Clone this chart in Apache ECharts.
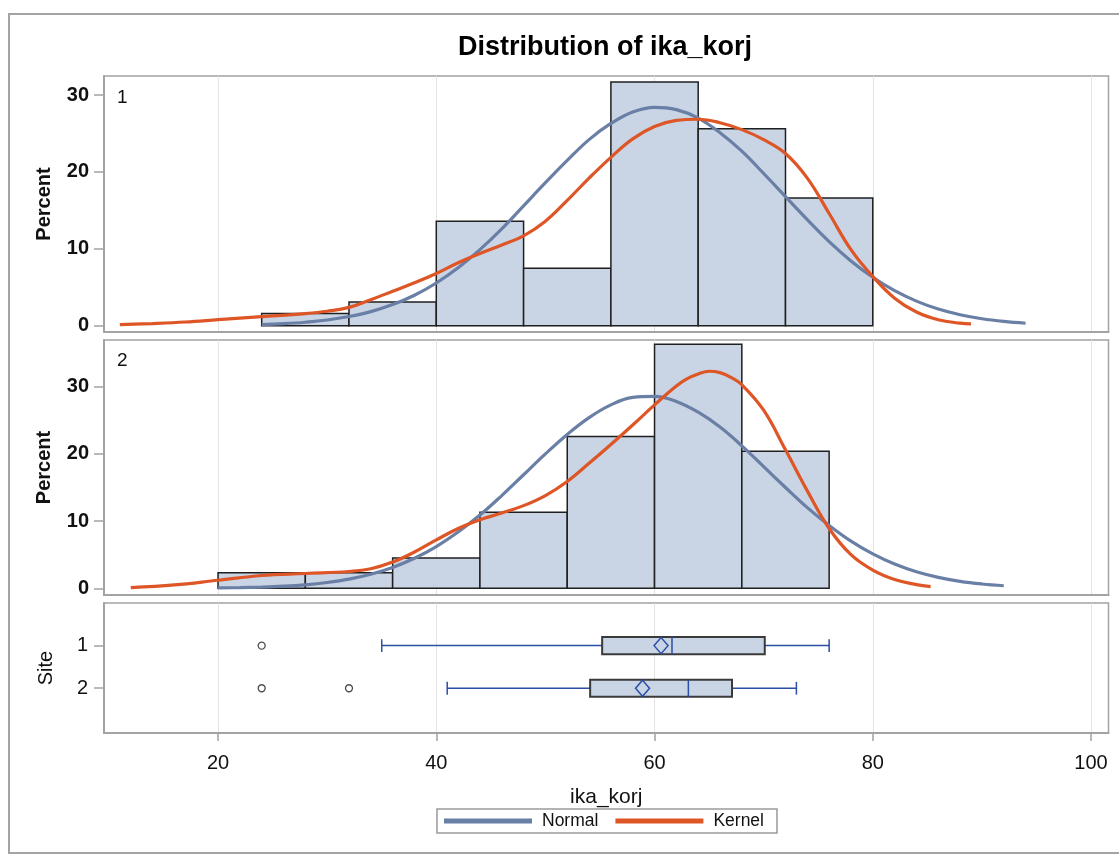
<!DOCTYPE html>
<html>
<head>
<meta charset="utf-8">
<script src="https://cdn.jsdelivr.net/npm/echarts@6/dist/echarts.min.js"></script>
<style>html,body{margin:0;padding:0;background:#fff}#c{width:1119px;height:857px}</style>
</head>
<body>
<div id="c"></div>
<script>
// ---------- data ----------
const xTicks = [20, 40, 60, 80, 100];
const pctTicks1 = [0, 10, 20, 30];
const pctTicks2 = [0, 10, 20, 30];
const siteLabels = [1, 2];

// histogram bins (left edge, right edge) and percents
const site1BinLo = [24, 32, 40, 48, 56, 64, 72];
const site1BinHi = [32, 40, 48, 56, 64, 72, 80];
const site1Pct   = [1.6, 3.1, 13.6, 7.5, 31.7, 25.6, 16.6];

const site2BinLo = [20, 28, 36, 44, 52, 60, 68];
const site2BinHi = [28, 36, 44, 52, 60, 68, 76];
const site2Pct   = [2.3, 2.3, 4.5, 11.3, 22.6, 36.3, 20.4];

// normal curve, site 1
const normal1X = [24, 26, 28, 30, 32, 34, 36, 38, 40, 42, 44, 46, 48, 50, 52, 54, 56, 58, 60, 62, 64, 66, 68, 70, 72, 74, 76, 78, 80, 82, 84, 86, 88, 90, 92, 94];
const normal1Y = [0.16, 0.28, 0.47, 0.76, 1.21, 1.85, 2.76, 3.98, 5.57, 7.54, 9.9, 12.6, 15.6, 18.6, 21.5, 24.2, 26.3, 27.8, 28.4, 28.1, 27.0, 25.1, 22.7, 19.8, 16.8, 13.8, 10.95, 8.44, 6.31, 4.57, 3.21, 2.18, 1.44, 0.92, 0.57, 0.34];
// kernel curve, site 1
const kernel1X = [11, 14, 17, 20, 24, 28, 30, 32, 34, 36, 38, 40, 42, 44, 46, 48, 50, 52, 54, 56, 58, 60, 62, 64, 66, 68, 70, 72, 74, 76, 78, 80, 82, 84, 86, 88, 89];
const kernel1Y = [0.15, 0.3, 0.5, 0.8, 1.2, 1.6, 1.9, 2.4, 3.4, 4.5, 5.6, 6.8, 8.2, 9.4, 10.5, 11.7, 13.6, 16.3, 19.2, 21.9, 24.3, 25.9, 26.7, 26.85, 26.4, 25.5, 24.2, 22.4, 19.2, 14.6, 9.9, 6.4, 3.6, 1.8, 0.8, 0.35, 0.25];

// normal curve, site 2
const normal2X = [20, 22, 24, 26, 28, 30, 32, 34, 36, 38, 40, 42, 44, 46, 48, 50, 52, 54, 56, 58, 60, 62, 64, 66, 68, 70, 72, 74, 76, 78, 80, 82, 84, 86, 88, 90, 92];
const normal2Y = [0.05, 0.1, 0.18, 0.31, 0.52, 0.86, 1.36, 2.09, 3.1, 4.46, 6.21, 8.37, 10.9, 13.8, 16.9, 20.0, 22.9, 25.4, 27.3, 28.4, 28.56, 27.8, 26.2, 24.0, 21.2, 18.1, 15.0, 12.0, 9.35, 7.02, 5.11, 3.6, 2.45, 1.62, 1.03, 0.64, 0.38];
// kernel curve, site 2
const kernel2X = [12, 16, 20, 24, 28, 32, 34, 36, 38, 40, 42, 44, 46, 48, 50, 52, 54, 56, 58, 60, 62, 63, 64, 65, 66, 67, 68, 70, 72, 74, 76, 78, 80, 82, 84, 85.3];
const kernel2Y = [0.1, 0.5, 1.2, 1.9, 2.2, 2.5, 2.9, 3.9, 5.4, 7.2, 8.9, 10.2, 11.2, 12.3, 13.8, 15.9, 18.6, 21.4, 24.3, 27.3, 30.1, 31.2, 31.9, 32.3, 32.1, 31.4, 30.3, 26.5, 20.6, 14.5, 8.9, 5.0, 2.7, 1.3, 0.55, 0.25];

// box plots: whisker low, Q1, median, Q3, whisker high, mean
const boxSite   = [1, 2];
const boxLow    = [35, 41];
const boxQ1     = [55.2, 54.1];
const boxMedian = [61.6, 63.1];
const boxQ3     = [70.1, 67.1];
const boxHigh   = [76, 73];
const boxMean   = [60.6, 58.9];
// outliers
const outlierX    = [24, 24, 32];
const outlierSite = [1, 2, 2];

// ---------- chart ----------
const FONT = 'Liberation Sans, Arial, sans-serif';
const NORMAL_C = '#6a7fa6';
const KERNEL_C = '#df5626';
const FILL_C = '#c9d4e5';
const FRAME_C = '#a3a3a3';
const GRID_C = '#e3e3e3';

const zip = (a, b) => a.map((v, i) => [v, b[i]]);
const bins = (lo, hi, p) => lo.map((v, i) => [v, hi[i], p[i]]);

const L = 104, R = 10.5;
const grids = [
  {left: L, right: R, top: 76, height: 256},
  {left: L, right: R, top: 340, height: 255},
  {left: L, right: R, top: 603, height: 130}
].map(g => Object.assign(g, {show: true, borderColor: FRAME_C, borderWidth: 1.5, containLabel: false}));

function xAxis(i, bottom) {
  return {
    type: 'value', gridIndex: i, min: 9.55, max: 101.6,
    axisLine: {show: true, onZero: false, lineStyle: {color: FRAME_C, width: 2}},
    axisTick: {show: bottom, customValues: xTicks, length: 8, lineStyle: {color: FRAME_C, width: 1.5}},
    axisLabel: {show: bottom, customValues: xTicks, fontSize: 20, color: '#111', fontFamily: FONT, margin: 20},
    splitLine: {show: true, lineStyle: {color: GRID_C, width: 1}},
    name: bottom ? 'ika_korj' : '', nameLocation: 'middle', nameGap: 54,
    nameTextStyle: {fontSize: 21, color: '#111', fontFamily: FONT}
  };
}
function yPct(i, min, max, ticks) {
  return {
    type: 'value', gridIndex: i, min: min, max: max,
    axisLine: {show: true, onZero: false, lineStyle: {color: FRAME_C, width: 2}},
    axisTick: {show: true, customValues: ticks, length: 10, lineStyle: {color: FRAME_C, width: 1.5}},
    axisLabel: {customValues: ticks, fontSize: 20, fontWeight: 'bold', color: '#111', fontFamily: FONT, margin: 15},
    splitLine: {show: false},
    name: 'Percent', nameLocation: 'middle', nameGap: 50,
    nameTextStyle: {fontSize: 20, fontWeight: 'bold', color: '#111', fontFamily: FONT}
  };
}

const histRender = (params, api) => {
  const p0 = api.coord([api.value(0), 0]);
  const p1 = api.coord([api.value(1), api.value(2)]);
  return {type: 'rect', shape: {x: p0[0], y: p1[1], width: p1[0] - p0[0], height: p0[1] - p1[1]},
    style: {fill: FILL_C, stroke: '#1f1f1f', lineWidth: 1.5}};
};

const boxRender = (params, api) => {
  const y = api.value(0);
  const lo = api.value(1), q1 = api.value(2), md = api.value(3), q3 = api.value(4), hi = api.value(5), mn = api.value(6);
  const c = v => api.coord([v, y]);
  const bh = api.size([0, 0.4])[1];
  const ch = api.size([0, 0.3])[1];
  const pLo = c(lo), pQ1 = c(q1), pMd = c(md), pQ3 = c(q3), pHi = c(hi), pMn = c(mn);
  const yc = pLo[1];
  const blue = '#2b4ea6';
  const ls = {stroke: blue, lineWidth: 1.5};
  return {type: 'group', children: [
    {type: 'line', shape: {x1: pLo[0], y1: yc, x2: pQ1[0], y2: yc}, style: ls},
    {type: 'line', shape: {x1: pQ3[0], y1: yc, x2: pHi[0], y2: yc}, style: ls},
    {type: 'line', shape: {x1: pLo[0], y1: yc - ch / 2, x2: pLo[0], y2: yc + ch / 2}, style: ls},
    {type: 'line', shape: {x1: pHi[0], y1: yc - ch / 2, x2: pHi[0], y2: yc + ch / 2}, style: ls},
    {type: 'rect', shape: {x: pQ1[0], y: yc - bh / 2, width: pQ3[0] - pQ1[0], height: bh},
      style: {fill: FILL_C, stroke: '#3a3a3a', lineWidth: 2}},
    {type: 'line', shape: {x1: pMd[0], y1: yc - bh / 2, x2: pMd[0], y2: yc + bh / 2}, style: ls},
    {type: 'polygon', shape: {points: [[pMn[0], yc - 8], [pMn[0] + 7, yc], [pMn[0], yc + 8], [pMn[0] - 7, yc]]},
      style: {fill: 'none', stroke: blue, lineWidth: 1.5}}
  ]};
};

const lineS = (name, xi, yi, data, color) => ({
  type: 'line', name: name, xAxisIndex: xi, yAxisIndex: yi, data: data, smooth: 0.4,
  showSymbol: false, symbol: 'none', z: 5,
  lineStyle: {color: color, width: 3.2}, itemStyle: {color: color}
});

const option = {
  animation: false,
  textStyle: {fontFamily: FONT},
  grid: grids,
  xAxis: [xAxis(0, false), xAxis(1, false), xAxis(2, true)],
  yAxis: [
    yPct(0, -0.8, 32.47, pctTicks1),
    yPct(1, -1.0, 36.95, pctTicks2),
    {
      type: 'value', gridIndex: 2, min: 0, max: 3.05, inverse: true,
      axisLine: {show: true, onZero: false, lineStyle: {color: FRAME_C, width: 2}},
      axisTick: {show: true, customValues: siteLabels, length: 10, lineStyle: {color: FRAME_C, width: 1.5}},
      axisLabel: {customValues: siteLabels, fontSize: 20, color: '#111', fontFamily: FONT, margin: 16},
      splitLine: {show: false},
      name: 'Site', nameLocation: 'middle', nameGap: 48,
      nameTextStyle: {fontSize: 20, color: '#111', fontFamily: FONT}
    }
  ],
  legend: {
    left: 437, top: 809, orient: 'horizontal',
    itemWidth: 88, itemHeight: 5, itemGap: 17,
    padding: [3, 13, 3, 7],
    borderColor: '#9a9a9a', borderWidth: 1.5,
    textStyle: {fontSize: 17.5, color: '#111', fontFamily: FONT, padding: [0, 0, 0, 5]},
    data: [{name: 'Normal', icon: 'rect'}, {name: 'Kernel', icon: 'rect'}]
  },
  graphic: [
    {type: 'rect', shape: {x: 9, y: 14, width: 1130, height: 839}, style: {fill: 'none', stroke: FRAME_C, lineWidth: 2}, silent: true},
    {type: 'text', x: 605, y: 48, style: {text: 'Distribution of ika_korj', fontSize: 27, fontWeight: 'bold', fill: '#000', fontFamily: FONT, textAlign: 'center', textVerticalAlign: 'middle'}},
    {type: 'text', x: 117, y: 88, z: 10, style: {text: '1', fontSize: 19, fill: '#111', fontFamily: FONT}},
    {type: 'text', x: 117, y: 351, z: 10, style: {text: '2', fontSize: 19, fill: '#111', fontFamily: FONT}}
  ],
  series: [
    {type: 'custom', name: 'hist1', xAxisIndex: 0, yAxisIndex: 0, data: bins(site1BinLo, site1BinHi, site1Pct),
      encode: {x: [0, 1], y: 2}, renderItem: histRender, z: 2},
    {type: 'custom', name: 'hist2', xAxisIndex: 1, yAxisIndex: 1, data: bins(site2BinLo, site2BinHi, site2Pct),
      encode: {x: [0, 1], y: 2}, renderItem: histRender, z: 2},
    lineS('Normal', 0, 0, zip(normal1X, normal1Y), NORMAL_C),
    lineS('Kernel', 0, 0, zip(kernel1X, kernel1Y), KERNEL_C),
    lineS('Normal', 1, 1, zip(normal2X, normal2Y), NORMAL_C),
    lineS('Kernel', 1, 1, zip(kernel2X, kernel2Y), KERNEL_C),
    {type: 'custom', name: 'box', xAxisIndex: 2, yAxisIndex: 2,
      data: boxSite.map((s, i) => [s, boxLow[i], boxQ1[i], boxMedian[i], boxQ3[i], boxHigh[i], boxMean[i]]),
      encode: {x: [1, 2, 3, 4, 5, 6], y: 0}, renderItem: boxRender, z: 3},
    {type: 'scatter', name: 'outliers', xAxisIndex: 2, yAxisIndex: 2, data: zip(outlierX, outlierSite),
      symbol: 'circle', symbolSize: 7, itemStyle: {color: '#fff', borderColor: '#222', borderWidth: 1.3}, z: 4}
  ]
};

const chart = echarts.init(document.getElementById('c'), null, {renderer: 'canvas'});
chart.setOption(option);
</script>
</body>
</html>
